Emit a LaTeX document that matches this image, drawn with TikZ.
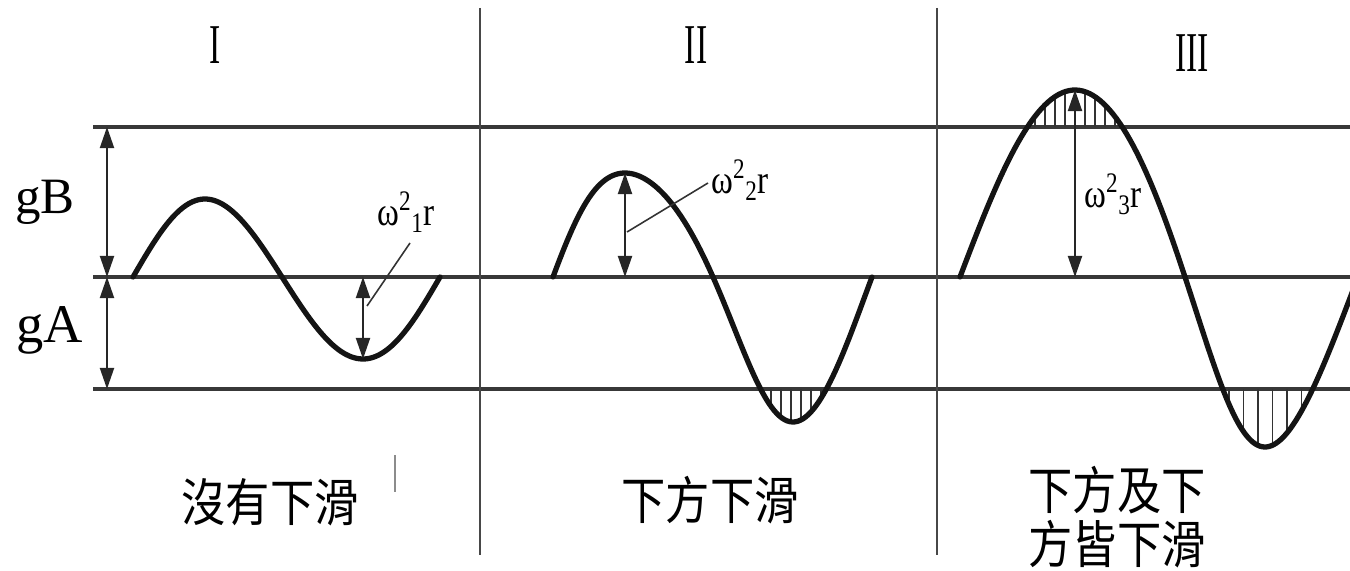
\documentclass[tikz,border=0pt]{standalone}
\usepackage{fontspec}
\setmainfont{Liberation Serif}
\newfontfamily\cjkfont{Noto Sans CJK TC}
\usetikzlibrary{arrows.meta}
% smooth warped waves: x(t), y(t), t in degrees 0..360
\newcommand{\wxA}{133+\t/360*307-2.25*sin(\t)-2.25*(1-cos(\t))-0.125*(1-cos(2*\t))}
\newcommand{\wyA}{277-(80-2*sin(\t))*sin(\t)}
\newcommand{\wxB}{553+\t/360*319-4.25*sin(\t)+0.25*(1-cos(\t))-1.875*(1-cos(2*\t))}
\newcommand{\wyB}{277-(124.5-20.5*sin(\t))*sin(\t)}
\newcommand{\wxC}{960+\t/360*398+4.5*sin(\t)+13*(1-cos(\t))-(1-cos(2*\t))}
\newcommand{\wyC}{277-(178.5+8.5*sin(\t))*sin(\t)}
\begin{document}
\begin{tikzpicture}[x=0.02cm,y=-0.02cm,
  hline/.style={draw=black!78, line width=2.2pt},
  vline/.style={draw=black!72, line width=1.2pt},
  wave/.style={draw=black!92, line width=3pt, line join=round, line cap=round},
  dim/.style={draw=black!85, line width=1.1pt, >={Triangle[length=12pt,width=8pt]}, <->},
  leader/.style={draw=black!80, line width=0.9pt},
  hatch/.style={draw=black!80, line width=0.9pt},
  roman/.style={font=\fontsize{32}{36}\selectfont, anchor=base, inner sep=0pt},
  glabel/.style={anchor=base west, inner sep=0pt},
  wlabel/.style={font=\fontsize{23}{26}\selectfont, anchor=base west, inner sep=0pt},
  cjklabel/.style={font=\cjkfont\fontsize{28}{31}\selectfont, align=center, inner sep=0pt},
]
\useasboundingbox (0,0) rectangle (1350,571);

% horizontal reference lines
\coordinate (TL) at (93,127);  \coordinate (TR) at (1350,127);
\coordinate (ML) at (93,277);  \coordinate (MR) at (1350,277);
\coordinate (BL) at (93,389);  \coordinate (BR) at (1350,389);
\draw[hline] (TL) -- (TR);
\draw[hline] (ML) -- (MR);
\draw[hline] (BL) -- (BR);

% dividers
\coordinate (D1t) at (480,8);  \coordinate (D1b) at (480,555);
\coordinate (D2t) at (937,8);  \coordinate (D2b) at (937,555);
\draw[vline] (D1t) -- (D1b);
\draw[vline] (D2t) -- (D2b);

% panel titles
\node[roman] (tI)   at (215,64) {\scalebox{0.6}[1]{I}};
\node[roman] (tII)  at (696,64) {\scalebox{0.6}[1]{II}};
\node[roman] (tIII) at (1192,72) {\scalebox{0.6}[1]{III}};

% gB / gA
\node[glabel, font=\fontsize{29}{32}\selectfont] (gB) at (15,214) {gB};
\node[glabel, font=\fontsize{31}{34}\selectfont] (gA) at (16,342) {gA};
\coordinate (gBt) at (107,127); \coordinate (gBb) at (107,277);
\coordinate (gAt) at (107,277); \coordinate (gAb) at (107,389);
\draw[dim] (gBt) -- (gBb);
\draw[dim] (gAt) -- (gAb);

% ---------- hatching ----------
% panel II trough
\begin{scope}
\clip plot[domain=0:360,samples=120,variable=\t] ({\wxB},{\wyB}) -- cycle;
\clip (700,389) rectangle (900,480);
\foreach \h in {751,761,...,841} \draw[hatch] (\h,380) -- (\h,480);
\end{scope}
% panel III crest
\begin{scope}
\clip plot[domain=0:360,samples=120,variable=\t] ({\wxC},{\wyC}) -- cycle;
\clip (950,60) rectangle (1200,127);
\foreach \h in {1015,1025,...,1135} \draw[hatch] (\h,70) -- (\h,135);
\end{scope}
% panel III trough
\begin{scope}
\clip plot[domain=0:360,samples=120,variable=\t] ({\wxC},{\wyC}) -- cycle;
\clip (1150,389) rectangle (1350,480);
\foreach \h in {1200,1214.5,...,1335} \draw[hatch] (\h,380) -- (\h,480);
\end{scope}

% ---------- waves ----------
\draw[wave] plot[domain=0:360,samples=120,variable=\t] ({\wxA},{\wyA});
\draw[wave] plot[domain=0:360,samples=120,variable=\t] ({\wxB},{\wyB});
\begin{scope}
\clip (0,0) rectangle (1350,571);
\draw[wave] plot[domain=0:360,samples=140,variable=\t] ({\wxC},{\wyC});
\end{scope}

% ---------- amplitude arrows & labels ----------
\coordinate (a1t) at (363,277); \coordinate (a1b) at (363,359);
\draw[dim] (a1t) -- (a1b);
\node[wlabel] (w1) at (377,226) {\scalebox{0.82}[1]{ω\textsuperscript{2}\textsubscript{1}r}};
\coordinate (l1a) at (367,306); \coordinate (l1b) at (410,243);
\draw[leader] (l1a) -- (l1b);

\coordinate (a2t) at (625,173); \coordinate (a2b) at (625,277);
\draw[dim] (a2t) -- (a2b);
\node[wlabel] (w2) at (711,194) {\scalebox{0.82}[1]{ω\textsuperscript{2}\textsubscript{2}r}};
\coordinate (l2a) at (627,232); \coordinate (l2b) at (708,183);
\draw[leader] (l2a) -- (l2b);

\coordinate (a3t) at (1075,90); \coordinate (a3b) at (1075,277);
\draw[dim] (a3t) -- (a3b);
\node[wlabel] (w3) at (1084,208) {\scalebox{0.82}[1]{ω\textsuperscript{2}\textsubscript{3}r}};

% ---------- captions ----------
\node[cjklabel] (c1) at (270,502) {\scalebox{0.9}[1.04]{沒有下滑}};
\node[cjklabel] (c2) at (710,500) {\scalebox{0.9}[1.04]{下方下滑}};
\node[cjklabel] (c3) at (1117,517) {\scalebox{0.9}[1.04]{下方及下}\\[0pt]\scalebox{0.9}[1.04]{方皆下滑}};

% faint scan artifact
\coordinate (f1t) at (395,455); \coordinate (f1b) at (395,492);
\draw[draw=black!45, line width=0.8pt] (f1t) -- (f1b);
\end{tikzpicture}
\end{document}
